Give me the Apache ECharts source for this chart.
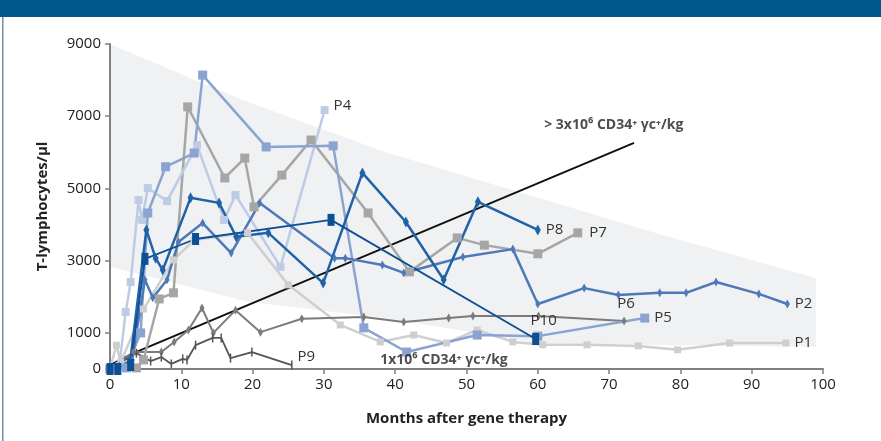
<!DOCTYPE html>
<html>
<head>
<meta charset="utf-8">
<script src="https://cdn.jsdelivr.net/npm/echarts@6/dist/echarts.min.js"></script>
<style>
  html, body { margin: 0; padding: 0; background: #fff; }
  #chart { width: 881px; height: 441px; }
</style>
</head>
<body>
<div id="chart"></div>
<script>
// [months after gene therapy, T-lymphocytes/µl]
const p1 = [[0, 0], [0.9, 660], [1.5, 190], [4.7, 1660], [8.9, 3020], [11.8, 3570], [19.3, 3770], [25, 2330], [32.3, 1220], [37.9, 750], [42.6, 940], [47.2, 720], [51.5, 1080], [56.5, 750], [60.7, 670], [66.9, 670], [74.1, 640], [79.6, 530], [86.9, 720], [94.8, 720]]
const p2 = [[0, 0], [1.3, 80], [3.1, 250], [4.9, 2470], [6, 1970], [8, 2470], [9.6, 3520], [13, 4040], [17, 3210], [21, 4600], [31.5, 3070], [33, 3070], [38.2, 2880], [41.2, 2660], [49.5, 3100], [56.5, 3320], [60, 1800], [66.5, 2240], [71.3, 2050], [77.1, 2110], [80.8, 2110], [85, 2410], [91, 2080], [95, 1800]]
const p4 = [[0, 0], [1.3, 80], [2.2, 1580], [2.9, 2410], [4, 4680], [4.5, 4130], [5.3, 5010], [8, 4650], [12.2, 6200], [16, 4130], [17.6, 4820], [23.9, 2830], [30.1, 7170]]
const p5 = [[0, 0], [2.3, 30], [4.3, 1000], [5.3, 4320], [7.8, 5600], [11.8, 5980], [13, 8140], [21.9, 6150], [31.3, 6180], [35.6, 1140], [41.6, 470], [51.5, 940], [60, 910], [75, 1410]]
const p6 = [[0, 0], [3.3, 470], [7.2, 470], [9, 750], [11, 1080], [12.9, 1690], [14.5, 1000], [17.6, 1630], [21.1, 1020], [26.9, 1390], [35.6, 1440], [41.2, 1300], [47.5, 1410], [50.9, 1470], [60.1, 1470], [72.1, 1330]]
const p7 = [[0, 0], [3.7, 30], [4.7, 250], [6.9, 1940], [8.9, 2110], [10.9, 7260], [16.1, 5290], [18.9, 5840], [20.2, 4490], [24.1, 5370], [28.2, 6340], [36.2, 4320], [42, 2690], [48.7, 3630], [52.5, 3430], [60, 3190], [65.6, 3770]]
const p8 = [[0, 0], [1.1, 0], [2.8, 170], [5.1, 3850], [6.4, 3070], [7.4, 2740], [11.3, 4740], [15.3, 4600], [17.7, 3660], [22.2, 3770], [29.9, 2380], [35.4, 5430], [41.5, 4070], [46.8, 2470], [51.6, 4630], [60, 3850]]
const p9 = [[0, 0], [3.7, 440], [5.7, 220], [7.2, 330], [8.6, 140], [10.2, 280], [10.8, 250], [12, 660], [14.4, 860], [15.6, 860], [16.9, 300], [19.9, 470], [25.5, 110]]
const p10 = [[0, 0], [1.1, 0], [2.9, 110], [4.9, 3050], [12, 3600], [31, 4130], [59.7, 830]]

// grey band and the > 3x10^6 dose line
const shadeArea = [[0, 9000], [18.6, 7450], [38.6, 6010], [77.5, 3710], [99, 2520], [99, 610], [59.8, 720], [38.6, 1410], [19.3, 1860], [0, 2830]]
const doseLine = [[0, 110], [3.3, 440], [73.5, 6260]]

const yTickValues = [0, 1000, 3000, 5000, 7000, 9000]

const FONT = 'Open Sans'

const patients = [
  { name: 'P1', data: p1, color: '#cfcfcf', symbol: 'rect', size: 7, width: 2.5, pos: 'right', offset: [0, 0] },
  { name: 'P6', data: p6, color: '#7b7b7b', symbol: 'diamond', size: [5, 9], width: 2, pos: 'top', offset: [2, 0] },
  { name: 'P9', data: p9, color: '#555555', symbol: 'rect', size: [1.5, 9], width: 1.8, pos: 'right', offset: [0, -8] },
  { name: 'P7', data: p7, color: '#a6a6a6', symbol: 'rect', size: 9, width: 2.5, pos: 'right', offset: [2, 0] },
  { name: 'P4', data: p4, color: '#bdcbe5', symbol: 'rect', size: 8, width: 2.5, pos: 'right', offset: [0, -4] },
  { name: 'P5', data: p5, color: '#8aa3d0', symbol: 'rect', size: 9, width: 2.5, pos: 'right', offset: [0, 0] },
  { name: 'P2', data: p2, color: '#4e78b8', symbol: 'diamond', size: [5, 9], width: 2.5, pos: 'right', offset: [0, 0] },
  { name: 'P8', data: p8, color: '#1f63a6', symbol: 'diamond', size: [6, 11], width: 2.5, pos: 'right', offset: [0, 0] },
  { name: 'P10', data: p10, color: '#0b4f95', symbol: 'rect', size: [7, 12], width: 1.8, pos: 'top', offset: [8, 0] }
]

function withEndLabel(p) {
  return p.data.map((pt, i) => {
    if (i < p.data.length - 1) return pt
    return {
      value: pt,
      label: {
        show: true,
        formatter: p.name,
        position: p.pos,
        offset: p.offset,
        color: '#333',
        fontSize: 15,
        fontFamily: FONT
      }
    }
  })
}

const chart = echarts.init(document.getElementById('chart'), null, { renderer: 'canvas' })

const noteStyle = { color: '#222', fontSize: 14, fontWeight: 'bold', fontFamily: FONT }

const option = {
  animation: false,
  backgroundColor: '#fff',
  grid: { left: 110, right: 58, top: 44, bottom: 72 },
  graphic: [
    { type: 'rect', left: 0, top: 0, shape: { width: 881, height: 17 }, style: { fill: '#00578c' } },
    { type: 'rect', left: 2, top: 17, shape: { width: 1.5, height: 424 }, style: { fill: '#6f8fae' } }
  ],
  xAxis: {
    type: 'value',
    min: 0,
    max: 100,
    interval: 10,
    name: 'Months after gene therapy',
    nameLocation: 'middle',
    nameGap: 42,
    nameTextStyle: { color: '#222', fontSize: 15, fontWeight: 'bold', fontFamily: FONT },
    axisLine: { lineStyle: { color: '#808080', width: 2 } },
    axisTick: { show: true, length: 5, lineStyle: { color: '#808080', width: 1.5 } },
    axisLabel: { color: '#222', fontSize: 15, fontFamily: FONT, margin: 8, formatter: (v) => String(v) },
    splitLine: { show: false }
  },
  yAxis: {
    type: 'value',
    min: 0,
    max: 9000,
    name: 'T-lymphocytes/μl',
    nameLocation: 'middle',
    nameGap: 60,
    nameRotate: 90,
    nameTextStyle: { color: '#222', fontSize: 15, fontWeight: 'bold', fontFamily: FONT },
    axisLine: { show: true, lineStyle: { color: '#808080', width: 2 } },
    axisTick: { show: true, length: 5, customValues: yTickValues, lineStyle: { color: '#808080', width: 1.5 } },
    axisLabel: { color: '#222', fontSize: 15, fontFamily: FONT, margin: 9, customValues: yTickValues, formatter: (v) => String(v) },
    splitLine: { show: false }
  },
  series: [
    {
      type: 'custom',
      silent: true,
      z: 0,
      data: [0],
      renderItem: (params, api) => ({
        type: 'polygon',
        shape: { points: shadeArea.map((p) => api.coord(p)) },
        style: { fill: '#eff1f3' }
      })
    },
    {
      type: 'line',
      data: doseLine,
      showSymbol: false,
      silent: true,
      z: 3,
      lineStyle: { color: '#111', width: 2 }
    },
    ...patients.map((p) => ({
      type: 'line',
      name: p.name,
      data: withEndLabel(p),
      symbol: p.symbol,
      symbolSize: p.size,
      showAllSymbol: true,
      z: 4,
      itemStyle: { color: p.color },
      lineStyle: { color: p.color, width: p.width }
    })),
    {
      type: 'scatter',
      symbolSize: 0,
      silent: true,
      z: 5,
      data: [
        { value: [60.9, 6760], label: { show: true, position: 'right', distance: 0, formatter: '> 3x10⁶ CD34⁺ γc⁺/kg', ...noteStyle } },
        { value: [37.9, 250], label: { show: true, position: 'right', distance: 0, formatter: '1x10⁶ CD34⁺ γc⁺/kg', ...noteStyle } }
      ]
    }
  ]
}

chart.setOption(option)
</script>
</body>
</html>
